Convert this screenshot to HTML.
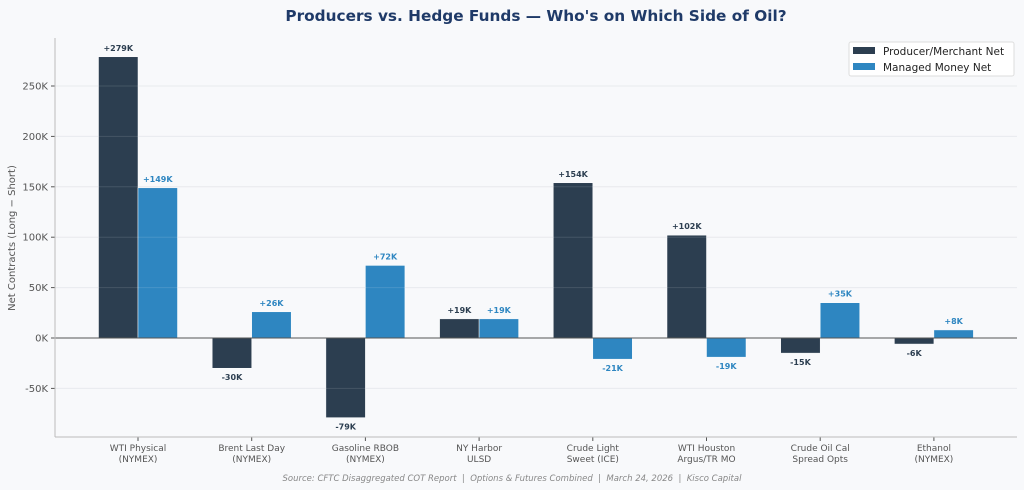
<!DOCTYPE html>
<html><head><meta charset="utf-8"><style>
body{margin:0;background:#f8f9fb;}
svg{display:block;font-family:"DejaVu Sans","Liberation Sans",sans-serif;}
</style></head><body>
<svg id="c" width="1024" height="490">
<rect width="1024" height="490" fill="#f8f9fb"/>
<text x="536" y="21" text-anchor="middle" font-size="15.3" font-weight="bold" fill="#1f3a68">Producers vs. Hedge Funds — Who's on Which Side of Oil?</text>
<g id="grid"></g><g id="bars"></g><g id="axes"></g>
<text transform="translate(15,238) rotate(-90)" text-anchor="middle" font-size="10" fill="#555">Net Contracts (Long − Short)</text>
<g>
<rect x="849" y="42" width="165" height="34" fill="#fff" stroke="#ddd" rx="2"/>
<rect x="853" y="47" width="22" height="7" fill="#2c3e50"/>
<text x="883" y="55" font-size="10.5" fill="#222">Producer/Merchant Net</text>
<rect x="853" y="63" width="22" height="7" fill="#2e86c1"/>
<text x="883" y="71" font-size="10.5" fill="#222">Managed Money Net</text>
</g>
<text x="512" y="481" text-anchor="middle" font-size="8.5" font-style="italic" fill="#888" xml:space="preserve" style="white-space:pre">Source: CFTC Disaggregated COT Report  |  Options &amp; Futures Combined  |  March 24, 2026  |  Kisco Capital</text>
</svg>
<script>
const categories=[["WTI Physical","(NYMEX)"],["Brent Last Day","(NYMEX)"],["Gasoline RBOB","(NYMEX)"],["NY Harbor","ULSD"],["Crude Light","Sweet (ICE)"],["WTI Houston","Argus/TR MO"],["Crude Oil Cal","Spread Opts"],["Ethanol","(NYMEX)"]];
const producerNet=[279,-30,-79,19,154,102,-15,-6];
const managedNet=[149,26,72,19,-21,-19,35,8];
const yTicks=[-50,0,50,100,150,200,250];
const NS="http://www.w3.org/2000/svg";
const L=55,R=1017,T=38,B=437;
function y(v){return 338-v*50.4/50;}
function xc(i){return 138+i*113.7;}
const BW=39.5;
function mk(tag,attrs,parent,text){const e=document.createElementNS(NS,tag);for(const k in attrs)e.setAttribute(k,attrs[k]);if(text!==undefined)e.textContent=text;document.getElementById(parent).appendChild(e);return e;}
yTicks.forEach(t=>{
  if(t!==0){const g=mk('line',{x1:L,x2:R,y1:y(t),y2:y(t),stroke:'#e6e8ec','stroke-width':1},'grid');
  
  }
  const tk=mk('line',{x1:L-4,x2:L,y1:y(t),y2:y(t),stroke:'#555'},'axes');
  
  
  const lb=mk('text',{x:L-7,y:y(t)+3.5,'text-anchor':'end','font-size':10,fill:'#555'},'axes',t+'K');
  
  
});
function fmt(v){return (v>0?'+':'')+v+'K';}
function bar(i,v,off,col,name){
  const top=Math.min(y(v),y(0)),h=Math.abs(y(v)-y(0));
  const r=mk('rect',{x:xc(i)+off,y:top,width:BW,height:h,fill:col,stroke:'#fff','stroke-width':0.5},'bars');
  
  
  const ty=v>=0?y(v)-6:y(v)+12;
  const t=mk('text',{x:xc(i)+off+BW/2,y:ty,'text-anchor':'middle','font-size':8,'font-weight':'bold',fill:col},'bars',fmt(v));
  
  
}
categories.forEach((c,i)=>{
  bar(i,producerNet[i],-BW,'#2c3e50','producer');
  bar(i,managedNet[i],0,'#2e86c1','managed');
  const t1=mk('text',{x:xc(i),y:451,'text-anchor':'middle','font-size':9,fill:'#555'},'axes',c[0]);
  
  
  const t2=mk('text',{x:xc(i),y:462,'text-anchor':'middle','font-size':9,fill:'#555'},'axes',c[1]);
  
  
  const tk=mk('line',{x1:xc(i),x2:xc(i),y1:B,y2:B+4,stroke:'#555'},'axes');
  
  
});
yTicks.forEach(t=>{if(t!==0){const g=mk('line',{x1:L,x2:R,y1:y(t),y2:y(t),stroke:'rgba(255,255,255,0.12)'},'axes');

}});
const z=mk('line',{x1:L,x2:R,y1:y(0),y2:y(0),stroke:'#555','stroke-width':1},'axes');


const la=mk('line',{x1:L,x2:L,y1:T,y2:B,stroke:'#bbb'},'axes');


const ba=mk('line',{x1:L,x2:R,y1:B,y2:B,stroke:'#bbb'},'axes');


</script>
</body></html>
